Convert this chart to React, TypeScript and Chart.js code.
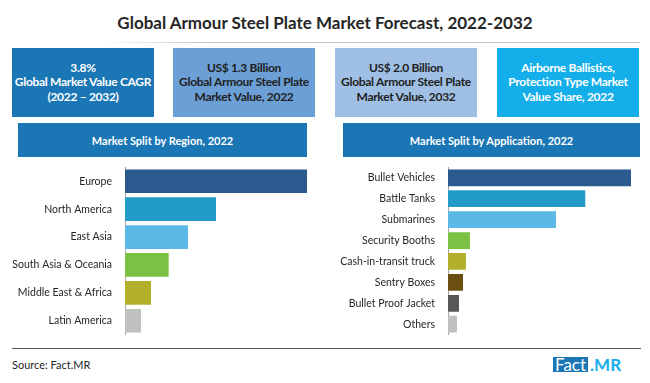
import React, { useEffect, useRef } from "react";
import { Chart, registerables } from "chart.js";

Chart.register(...registerables);

const FONT = "Lato, 'Open Sans', sans-serif";

const title = "Global Armour Steel Plate Market Forecast, 2022-2032";

const regionTitle = "Market Split by Region, 2022";
const regionLabels = ["Europe", "North America", "East Asia", "South Asia & Oceania", "Middle East & Africa", "Latin America"];
const regionValues = [100, 50, 34.6, 24, 14.3, 8.8];
const regionColors = ["#2b5b8e", "#229cc6", "#5bb9e6", "#7bc144", "#b2b02a", "#c0c0c0"];

const appTitle = "Market Split by Application, 2022";
const appLabels = ["Bullet Vehicles", "Battle Tanks", "Submarines", "Security Booths", "Cash-in-transit truck", "Sentry Boxes", "Bullet Proof Jacket", "Others"];
const appValues = [100, 75, 59, 12, 9.8, 8.2, 6, 4.9];
const appColors = ["#2b5b8e", "#229cc6", "#5bb9e6", "#7bc144", "#b2b02a", "#6b4f11", "#575757", "#c0c0c0"];

const boxes = [
  { lines: ["3.8%", "Global Market Value CAGR", "(2022 \u2013 2032)"], bg: "#1a76b4", color: "#ffffff" },
  { lines: ["US$ 1.3 Billion", "Global Armour Steel Plate", "Market Value, 2022"], bg: "#6c9fd5", color: "#1e1e1e" },
  { lines: ["US$ 2.0 Billion", "Global Armour Steel Plate", "Market Value, 2032"], bg: "#9fc0e4", color: "#1e1e1e" },
  { lines: ["Airborne Ballistics,", "Protection Type Market", "Value Share, 2022"], bg: "#14aeea", color: "#ffffff" },
];
const boxLefts = [12, 173, 335, 497];

const CH = 190;

function BarChart(props: { labels: string[]; values: number[]; colors: string[]; axisWidth: number; width: number; padRight: number; barPct: number }) {
  const ref = useRef<HTMLCanvasElement | null>(null);
  useEffect(() => {
    if (!ref.current) return;
    const chart = new Chart(ref.current, {
      type: "bar",
      data: {
        labels: props.labels,
        datasets: [
          {
            data: props.values,
            backgroundColor: props.colors,
            barPercentage: props.barPct,
            categoryPercentage: 1,
            borderWidth: 0,
          },
        ],
      },
      options: {
        indexAxis: "y",
        animation: false,
        responsive: false,
        maintainAspectRatio: false,
        layout: { padding: { top: 3, bottom: 1, right: props.padRight, left: 0 } },
        plugins: { legend: { display: false }, tooltip: { enabled: false } },
        scales: {
          x: { display: false, min: 0, max: 100 },
          y: {
            grid: { display: false },
            border: { display: true, color: "#a6a6a6", width: 1 },
            ticks: { color: "#262626", font: { family: FONT, size: 10.5 }, padding: 5, autoSkip: false },
            afterFit: (s: any) => {
              s.width = props.axisWidth;
            },
          },
        },
      },
    });
    return () => chart.destroy();
  }, []);
  return <canvas ref={ref} width={props.width} height={CH} style={{ display: "block", width: props.width, height: CH }} />;
}

export default function App() {
  return (
    <div style={{ position: "absolute", left: 0, top: 0, width: 650, height: 383, background: "#fff", fontFamily: FONT, overflow: "hidden" }}>
      <div style={{ position: "absolute", left: 0, top: 12, width: 650, textAlign: "center", fontSize: 17, fontWeight: 700, color: "#262626" }}>{title}</div>
      <div style={{ position: "absolute", left: 100, top: 42, width: 540, height: 1, background: "linear-gradient(to right, #ffffff, #c4c4c4 20%, #c4c4c4)" }} />
      {boxes.map((b, i) => (
        <div
          key={i}
          style={{
            position: "absolute",
            left: boxLefts[i],
            top: 48,
            width: 142,
            height: 69,
            background: b.bg,
            color: b.color,
            display: "flex",
            flexDirection: "column",
            justifyContent: "center",
            alignItems: "center",
            fontWeight: 700,
            fontSize: 12,
            lineHeight: "14.5px",
            letterSpacing: "-0.3px",
            whiteSpace: "nowrap",
            textAlign: "center",
          }}
        >
          {b.lines.map((l, j) => (
            <div key={j}>{l}</div>
          ))}
        </div>
      ))}
      <div style={{ position: "absolute", left: 18, top: 123, width: 289, height: 34, background: "#1a76b4", color: "#fff", fontWeight: 700, fontSize: 11, display: "flex", alignItems: "center", justifyContent: "center" }}>{regionTitle}</div>
      <div style={{ position: "absolute", left: 343, top: 123, width: 297, height: 34, background: "#1a76b4", color: "#fff", fontWeight: 700, fontSize: 11, display: "flex", alignItems: "center", justifyContent: "center" }}>{appTitle}</div>
      <div style={{ position: "absolute", left: 0, top: 156 }}>
        <BarChart labels={regionLabels} values={regionValues} colors={regionColors} axisWidth={125} width={320} padRight={13} barPct={0.85} />
      </div>
      <div style={{ position: "absolute", left: 320, top: 156 }}>
        <BarChart labels={appLabels} values={appValues} colors={appColors} axisWidth={128} width={330} padRight={19} barPct={0.8} />
      </div>
      <div style={{ position: "absolute", left: 12, top: 348, width: 629, height: 1, background: "#595959" }} />
      <div style={{ position: "absolute", left: 12, top: 358, fontSize: 11, color: "#262626" }}>Source: Fact.MR</div>
      <div style={{ position: "absolute", left: 553, top: 357, height: 15, display: "flex", alignItems: "stretch", fontSize: 17, lineHeight: "15px" }}>
        <span style={{ background: "#1a76b4", color: "#fff", padding: "0 2px" }}>Fact</span>
        <span style={{ color: "#14aeea", fontWeight: 700, paddingLeft: 2 }}>.MR</span>
      </div>
    </div>
  );
}
